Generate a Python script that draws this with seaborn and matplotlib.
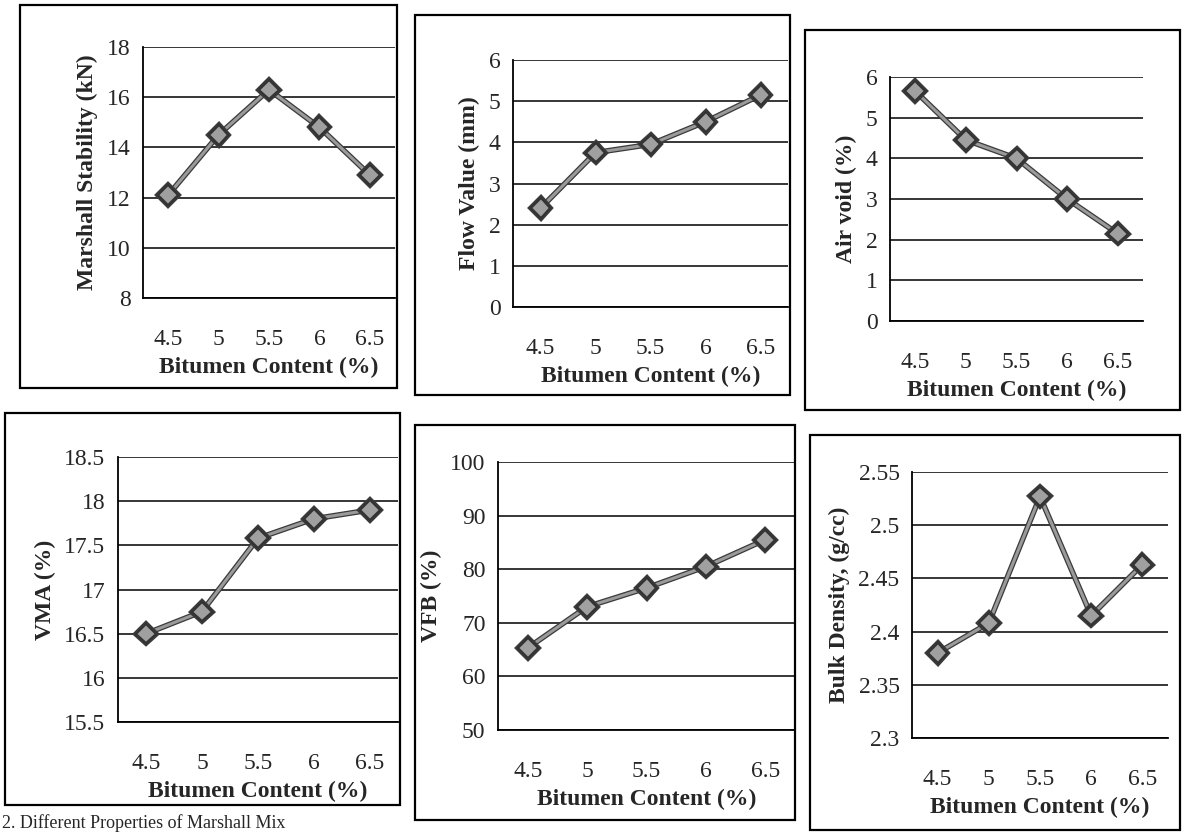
import matplotlib
matplotlib.use("Agg")
import matplotlib.pyplot as plt
import matplotlib.patheffects as pe
from matplotlib.patches import Rectangle
import pandas as pd
import seaborn as sns

bitumen = ["4.5", "5", "5.5", "6", "6.5"]

stability = [12.1, 14.5, 16.3, 14.8, 12.9]
flow = [2.4, 3.75, 3.95, 4.5, 5.15]
air_void = [5.65, 4.45, 4.0, 3.0, 2.15]
vma = [16.5, 16.75, 17.58, 17.8, 17.9]
vfb = [65.3, 73.0, 76.5, 80.5, 85.5]
bulk_density = [2.38, 2.408, 2.527, 2.415, 2.463]

ylabels = ["Marshall Stability (kN)", "Flow Value (mm)", "Air void (%)",
           "VMA (%)", "VFB (%)", "Bulk Density, (g/cc)"]
ylimits = [(8, 18, 2), (0, 6, 1), (0, 6, 1), (15.5, 18.5, 0.5), (50, 100, 10), (2.3, 2.55, 0.05)]
series = [stability, flow, air_void, vma, vfb, bulk_density]

# axes rectangles in pixels (left, top, right, bottom) and panel boxes
W, H = 1182, 834
axes_px = [(143, 47, 395, 298), (513, 60, 788, 307), (890, 77, 1143, 321),
           (118, 457, 398, 722), (498, 462, 795, 730), (912, 472, 1168, 738)]
boxes_px = [(20, 5, 397, 388), (415, 15, 790, 395), (805, 30, 1180, 410),
            (5, 413, 400, 805), (415, 425, 795, 820), (810, 435, 1180, 830)]

sns.set_style("white")
plt.rcParams["font.family"] = ["Liberation Serif", "DejaVu Serif"]

fig = plt.figure(figsize=(W / 100, H / 100), dpi=100)

for (l, t, r, b), (bl, bt, br, bb), vals, lab, (lo, hi, step) in zip(
        axes_px, boxes_px, series, ylabels, ylimits):
    fig.add_artist(Rectangle((bl / W, 1 - bb / H), (br - bl) / W, (bb - bt) / H,
                             transform=fig.transFigure, fill=False,
                             edgecolor="black", linewidth=1.6))
    ax = fig.add_axes([l / W, 1 - b / H, (r - l) / W, (b - t) / H])
    df = pd.DataFrame({"x": bitumen, "y": vals})
    sns.lineplot(data=df, x="x", y="y", ax=ax, color="#9a9a9a", linewidth=2.2,
                 marker="D", markersize=10, markerfacecolor="#a0a0a0",
                 markeredgecolor="#333333", markeredgewidth=1.5,
                 path_effects=[pe.Stroke(linewidth=4, foreground="#3a3a3a"), pe.Normal()],
                 zorder=5)
    ax.set_xlim(-0.5, len(bitumen) - 0.5)
    ax.set_ylim(lo, hi)
    n = int(round((hi - lo) / step))
    yt = [lo + i * step for i in range(n + 1)]
    ax.set_yticks(yt)
    ax.set_yticklabels([("%g" % v) for v in yt])
    ax.set_xticks(range(len(bitumen)))
    ax.set_xticklabels(bitumen)
    ax.set_xticks([i - 0.5 for i in range(len(bitumen) + 1)], minor=True)
    ax.tick_params(axis="x", which="major", length=0, pad=22, labelsize=17)
    ax.tick_params(axis="x", which="minor", length=6, width=1.3, direction="out", color="black")
    ax.tick_params(axis="y", length=6, width=1.3, direction="out", labelsize=17, pad=3)
    ax.grid(axis="y", color="black", linewidth=1.1)
    ax.set_axisbelow(True)
    for s in ["top", "right"]:
        ax.spines[s].set_visible(False)
    for s in ["left", "bottom"]:
        ax.spines[s].set_color("black")
        ax.spines[s].set_linewidth(1.3)
    ax.set_xlabel("Bitumen Content (%)", fontsize=17, fontweight="bold", labelpad=5)
    ax.set_ylabel(lab, fontsize=17, fontweight="bold", labelpad=6)

fig.text(0.002, 0.002, "2. Different Properties of Marshall Mix", fontsize=13, va="bottom")

fig.savefig("out.png", dpi=100, facecolor="white")
